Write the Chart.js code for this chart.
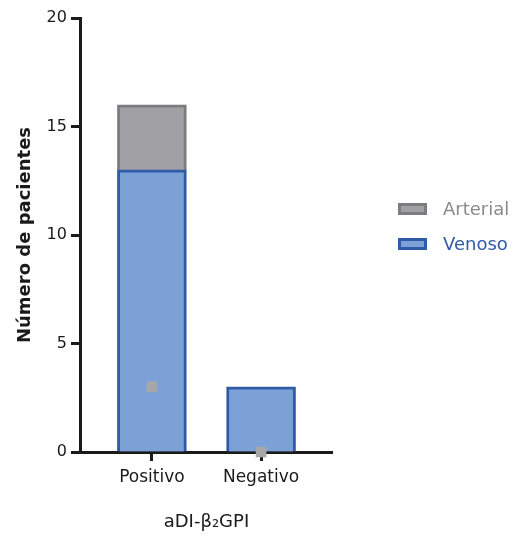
<!DOCTYPE html>
<html>
<head>
<meta charset="utf-8">
<script src="https://cdn.jsdelivr.net/npm/chart.js@4.4.0/dist/chart.umd.min.js"></script>
<style>
  html, body { margin: 0; padding: 0; background: #ffffff; }
  #wrap { width: 515px; height: 536px; position: relative; }
</style>
</head>
<body>
<div id="wrap"><canvas id="c"></canvas></div>
<script>
// Patients per aDI-β2GPI result, split by thrombosis type
const categories = ['Positivo', 'Negativo'];
const venoso = [13, 3];
const arterial = [3, 0];
// individual markers for the arterial count of each group
const arterialMarks = [3, 0];
const yTicks = [0, 5, 10, 15, 20];

const FONT = "'DejaVu Sans', sans-serif";
const AXIS = '#1a1a1a';

// Legend drawn beside the plot: box + coloured label per stacked series (top series first)
const sideLegend = {
  id: 'sideLegend',
  afterDraw(chart) {
    const ctx = chart.ctx;
    const area = chart.chartArea;
    const series = chart.data.datasets.filter(d => d.labelColor).slice().reverse();
    const x = area.right + 66;
    const w = 29, h = 12, rowGap = 35;
    const top = 209;
    ctx.save();
    ctx.font = '18px ' + FONT;
    ctx.textBaseline = 'middle';
    ctx.textAlign = 'left';
    series.forEach((d, i) => {
      const cy = top + i * rowGap;
      ctx.fillStyle = d.backgroundColor;
      ctx.fillRect(x, cy - h / 2, w, h);
      ctx.strokeStyle = d.borderColor;
      ctx.lineWidth = 3;
      ctx.strokeRect(x + 1.5, cy - h / 2 + 1.5, w - 3, h - 3);
      ctx.fillStyle = d.labelColor;
      ctx.fillText(d.label, x + w + 16, cy + 1);
    });
    ctx.restore();
  }
};

const toPoints = arr => arr.map((v, i) => ({ x: i, y: v }));

new Chart(document.getElementById('c'), {
  type: 'bar',
  data: {
    datasets: [
      {
        label: 'Venoso',
        data: toPoints(venoso),
        backgroundColor: '#7ba1d7',
        borderColor: '#2f5ba7',
        labelColor: '#2f5ba7',
        borderWidth: 3,
        barThickness: 69,
        stack: 'total',
        order: 2
      },
      {
        label: 'Arterial',
        data: toPoints(arterial),
        backgroundColor: '#a0a0a5',
        borderColor: '#7d7d7f',
        labelColor: '#8a8a8c',
        borderWidth: 3,
        barThickness: 69,
        stack: 'total',
        order: 2
      },
      {
        type: 'scatter',
        label: 'marks',
        data: toPoints(arterialMarks),
        stack: 'marks',
        pointStyle: 'rect',
        radius: 7.5,
        backgroundColor: '#a7a7aa',
        borderWidth: 0,
        clip: false,
        order: 1
      }
    ]
  },
  options: {
    responsive: true,
    maintainAspectRatio: false,
    animation: false,
    layout: { padding: { left: 15, right: 183, top: 18, bottom: 3 } },
    plugins: {
      legend: { display: false },
      tooltip: { enabled: false }
    },
    scales: {
      x: {
        type: 'linear',
        stacked: true,
        offset: false,
        min: -0.65,
        max: 1.65,
        afterBuildTicks: axis => { axis.ticks = categories.map((_, i) => ({ value: i })); },
        ticks: {
          callback: v => categories[v],
          color: AXIS,
          font: { family: FONT, size: 17 },
          padding: 6,
          maxRotation: 0
        },
        grid: { offset: false, drawOnChartArea: false, drawTicks: true, tickLength: 9, tickWidth: 3, tickColor: AXIS },
        border: { display: true, color: AXIS, width: 3 },
        title: {
          display: true,
          text: 'aDI-β₂GPI',
          color: AXIS,
          font: { family: FONT, size: 18 },
          padding: { top: 18, bottom: 0 }
        }
      },
      y: {
        stacked: true,
        min: 0,
        max: 20,
        afterBuildTicks: axis => { axis.ticks = yTicks.map(v => ({ value: v })); },
        ticks: {
          color: AXIS,
          font: { family: FONT, size: 16 },
          padding: 4
        },
        grid: { drawOnChartArea: false, drawTicks: true, tickLength: 10, tickWidth: 3, tickColor: AXIS },
        border: { display: true, color: AXIS, width: 3 },
        title: {
          display: true,
          text: 'Número de pacientes',
          color: AXIS,
          font: { family: FONT, size: 18, weight: 'bold' },
          padding: { top: 0, bottom: 6 }
        }
      }
    }
  },
  plugins: [sideLegend]
});
</script>
</body>
</html>
